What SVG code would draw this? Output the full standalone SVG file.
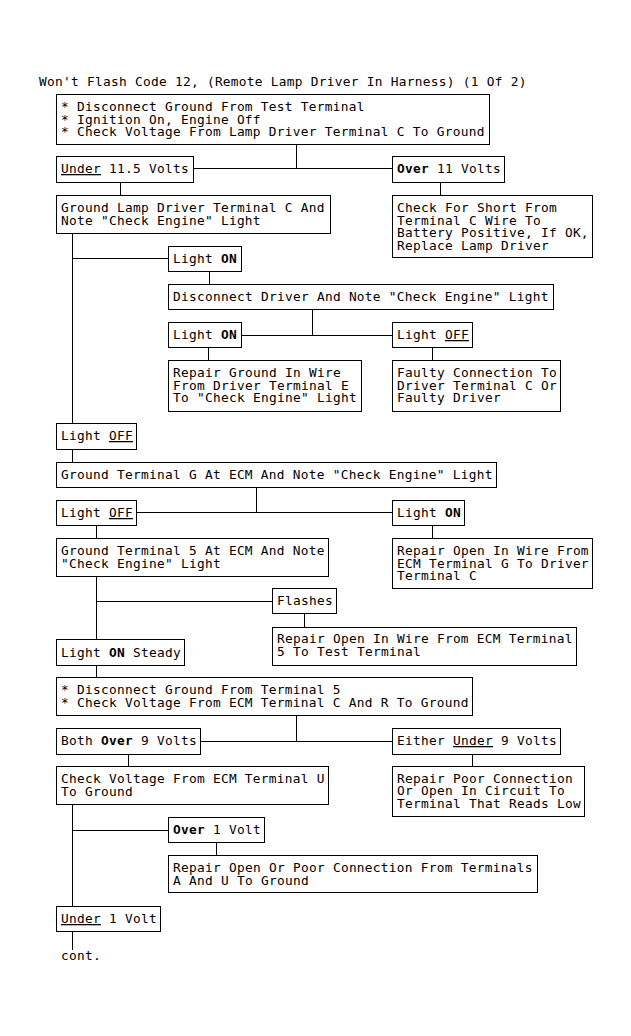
<svg xmlns="http://www.w3.org/2000/svg" width="631" height="1036" viewBox="0 0 631 1036">
<style>
text{font-family:"DejaVu Sans Mono","Liberation Mono",monospace;font-size:12.8px;letter-spacing:0.29px;fill:#000}
.b{font-weight:bold}
.u{text-decoration:underline}
rect.n{fill:#fff;stroke:#000;stroke-width:1}
#connectors path{fill:none;stroke:#000;stroke-width:1}
</style>
<rect x="0" y="0" width="631" height="1036" fill="#fff"/>
<text id="title" x="39" y="86">Won't Flash Code 12, (Remote Lamp Driver In Harness) (1 Of 2)</text>
<g id="connectors">
<path d="M296.5 144.5V168.5M193.5 168.5H392.5"/>
<path d="M120.5 182.5V195.5M440.5 182.5V195.5"/>
<path d="M72.5 233.5V423.5M72.5 258.5H168.5"/>
<path d="M209.5 271.5V284.5"/>
<path d="M312.5 309.5V335.5M241.5 335.5H392.5"/>
<path d="M208.5 347.5V360.5M432.5 347.5V360.5"/>
<path d="M72.5 449.5V462.5"/>
<path d="M256.5 487.5V512.5M136.5 512.5H392.5"/>
<path d="M96.5 525.5V538.5M432.5 525.5V538.5"/>
<path d="M96.5 576.5V639.5M96.5 601.5H272.5"/>
<path d="M304.5 613.5V627.5"/>
<path d="M96.5 665.5V677.5"/>
<path d="M296.5 715.5V741.5M200.5 741.5H392.5"/>
<path d="M128.5 754.5V766.5M472.5 754.5V766.5"/>
<path d="M72.5 804.5V906.5M72.5 830.5H168.5"/>
<path d="M216.5 842.5V855.5"/>
<path d="M72.5 931.5V950"/>
</g>
<g id="n1"><rect class="n" x="56.5" y="94.5" width="433" height="50"/>
<text x="61" y="111">* Disconnect Ground From Test Terminal</text>
<text x="61" y="123.5">* Ignition On, Engine Off</text>
<text x="61" y="136">* Check Voltage From Lamp Driver Terminal C To Ground</text></g>
<g id="n2"><rect class="n" x="56.5" y="156.5" width="137" height="26"/>
<text x="61" y="173"><tspan class="u">Under</tspan> 11.5 Volts</text></g>
<g id="n3"><rect class="n" x="392.5" y="156.5" width="112" height="26"/>
<text x="397" y="173"><tspan class="b">Over</tspan> 11 Volts</text></g>
<g id="n4"><rect class="n" x="56.5" y="195.5" width="274" height="38"/>
<text x="61" y="212">Ground Lamp Driver Terminal C And</text>
<text x="61" y="224.5">Note "Check Engine" Light</text></g>
<g id="n5"><rect class="n" x="392.5" y="195.5" width="200" height="62"/>
<text x="397" y="212">Check For Short From</text>
<text x="397" y="224.5">Terminal C Wire To</text>
<text x="397" y="237">Battery Positive, If OK,</text>
<text x="397" y="249.5">Replace Lamp Driver</text></g>
<g id="n6"><rect class="n" x="168.5" y="246.5" width="73" height="25"/>
<text x="173" y="263">Light <tspan class="b">ON</tspan></text></g>
<g id="n7"><rect class="n" x="168.5" y="284.5" width="385" height="25"/>
<text x="173" y="301">Disconnect Driver And Note "Check Engine" Light</text></g>
<g id="n8"><rect class="n" x="168.5" y="322.5" width="73" height="25"/>
<text x="173" y="339">Light <tspan class="b">ON</tspan></text></g>
<g id="n9"><rect class="n" x="392.5" y="322.5" width="80" height="25"/>
<text x="397" y="339">Light <tspan class="u">OFF</tspan></text></g>
<g id="n10"><rect class="n" x="168.5" y="360.5" width="193" height="51"/>
<text x="173" y="377">Repair Ground In Wire</text>
<text x="173" y="389.5">From Driver Terminal E</text>
<text x="173" y="402">To "Check Engine" Light</text></g>
<g id="n11"><rect class="n" x="392.5" y="360.5" width="168" height="51"/>
<text x="397" y="377">Faulty Connection To</text>
<text x="397" y="389.5">Driver Terminal C Or</text>
<text x="397" y="402">Faulty Driver</text></g>
<g id="n12"><rect class="n" x="56.5" y="423.5" width="80" height="26"/>
<text x="61" y="440">Light <tspan class="u">OFF</tspan></text></g>
<g id="n13"><rect class="n" x="56.5" y="462.5" width="440" height="25"/>
<text x="61" y="479">Ground Terminal G At ECM And Note "Check Engine" Light</text></g>
<g id="n14"><rect class="n" x="56.5" y="500.5" width="80" height="25"/>
<text x="61" y="517">Light <tspan class="u">OFF</tspan></text></g>
<g id="n15"><rect class="n" x="392.5" y="500.5" width="72" height="25"/>
<text x="397" y="517">Light <tspan class="b">ON</tspan></text></g>
<g id="n16"><rect class="n" x="56.5" y="538.5" width="272" height="38"/>
<text x="61" y="555">Ground Terminal 5 At ECM And Note</text>
<text x="61" y="567.5">"Check Engine" Light</text></g>
<g id="n17"><rect class="n" x="392.5" y="538.5" width="200" height="50"/>
<text x="397" y="555">Repair Open In Wire From</text>
<text x="397" y="567.5">ECM Terminal G To Driver</text>
<text x="397" y="580">Terminal C</text></g>
<g id="n18"><rect class="n" x="272.5" y="588.5" width="64" height="25"/>
<text x="277" y="605">Flashes</text></g>
<g id="n19"><rect class="n" x="272.5" y="627.5" width="304" height="38"/>
<text x="277" y="643">Repair Open In Wire From ECM Terminal</text>
<text x="277" y="655.5">5 To Test Terminal</text></g>
<g id="n20"><rect class="n" x="56.5" y="639.5" width="128" height="26"/>
<text x="61" y="656.5">Light <tspan class="b">ON</tspan> Steady</text></g>
<g id="n21"><rect class="n" x="56.5" y="677.5" width="416" height="38"/>
<text x="61" y="694">* Disconnect Ground From Terminal 5</text>
<text x="61" y="706.5">* Check Voltage From ECM Terminal C And R To Ground</text></g>
<g id="n22"><rect class="n" x="56.5" y="728.5" width="144" height="26"/>
<text x="61" y="745">Both <tspan class="b">Over</tspan> 9 Volts</text></g>
<g id="n23"><rect class="n" x="392.5" y="728.5" width="168" height="26"/>
<text x="397" y="745">Either <tspan class="u">Under</tspan> 9 Volts</text></g>
<g id="n24"><rect class="n" x="56.5" y="766.5" width="272" height="38"/>
<text x="61" y="783">Check Voltage From ECM Terminal U</text>
<text x="61" y="795.5">To Ground</text></g>
<g id="n25"><rect class="n" x="392.5" y="766.5" width="192" height="50"/>
<text x="397" y="782.5">Repair Poor Connection</text>
<text x="397" y="795">Or Open In Circuit To</text>
<text x="397" y="807.5">Terminal That Reads Low</text></g>
<g id="n26"><rect class="n" x="168.5" y="817.5" width="96" height="25"/>
<text x="173" y="834"><tspan class="b">Over</tspan> 1 Volt</text></g>
<g id="n27"><rect class="n" x="168.5" y="855.5" width="369" height="37"/>
<text x="173" y="872">Repair Open Or Poor Connection From Terminals</text>
<text x="173" y="884.5">A And U To Ground</text></g>
<g id="n28"><rect class="n" x="56.5" y="906.5" width="104" height="25"/>
<text x="61" y="923"><tspan class="u">Under</tspan> 1 Volt</text></g>
<text id="cont" x="61" y="960">cont.</text>
</svg>
